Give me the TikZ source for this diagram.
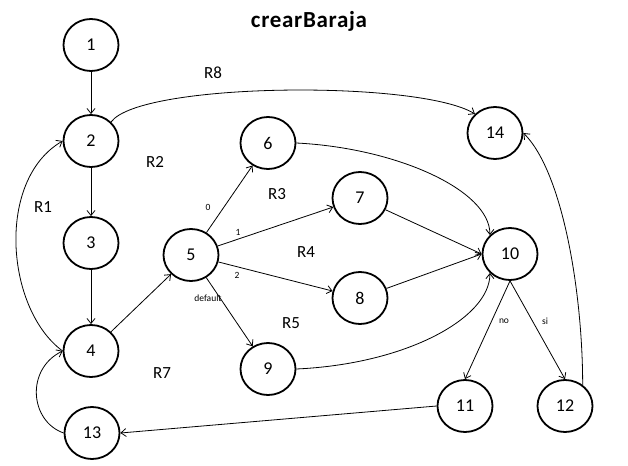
\documentclass[tikz,border=0pt]{standalone}
\usepackage{fontspec}
\setmainfont{Carlito}
\usetikzlibrary{shapes.geometric,arrows.meta}
\tikzset{
  st/.style={ellipse,draw,line width=1.8pt,minimum width=55pt,minimum height=52pt,inner sep=0pt,font=\fontsize{18}{18}\selectfont},
  ed/.style={line width=0.8pt,-{Straight Barb[length=5pt,width=8pt]}},
  reg/.style={font=\fontsize{17}{17}\selectfont},
  sm/.style={font=\fontsize{9.5}{9.5}\selectfont}
}
\begin{document}
\begin{tikzpicture}[x=1pt,y=-1pt]
\useasboundingbox (0,0) rectangle (628,465);
\node[font=\bfseries\fontsize{23}{23}\selectfont\addfontfeature{LetterSpace=3}] (title) at (309,21) {crearBaraja};
\node[st] (n1) at (91,45) {1};
\node[st] (n2) at (91,141) {2};
\node[st] (n3) at (91,243) {3};
\node[st] (n4) at (91,351) {4};
\node[st] (n13) at (92,433) {13};
\node[st] (n5) at (191,255) {5};
\node[st] (n6) at (268,143) {6};
\node[st] (n7) at (360,198) {7};
\node[st] (n8) at (360,298) {8};
\node[st] (n9) at (268,369) {9};
\node[st] (n10) at (510,254) {10};
\node[st] (n11) at (465,406) {11};
\node[st] (n12) at (565,406) {12};
\node[st] (n14) at (495,133) {14};
% region labels
\node[reg] (r8) at (213,73) {R8};
\node[reg] (r2) at (155,162) {R2};
\node[reg] (r1) at (43,207) {R1};
\node[reg] (r3) at (277,194) {R3};
\node[reg] (r4) at (306,252) {R4};
\node[reg] (r5) at (291,323) {R5};
\node[reg] (r7) at (162,373) {R7};
% small labels
\node[sm] (l0) at (208,207) {0};
\node[sm] (l1) at (238,232) {1};
\node[sm] (l2) at (237,275) {2};
\node[sm] (ldef) at (208,298) {default};
\node[sm] (lno) at (504,321) {no};
\node[sm] (lsi) at (545,321) {si};
% edges
\draw[ed] (n1) -- (n2);
\draw[ed] (n2) -- (n3);
\draw[ed] (n3) -- (n4);
\draw[ed] (n4.west) .. controls +(-57,-42) and +(-67,39) .. (n2.west);
\draw[ed] (n13.west) .. controls +(-34,-12) and +(-37,18) .. (n4.west);
\draw[ed] (n4) -- (n5);
\draw[ed] (n5) -- (n6);
\draw[ed] (n5) -- (n7);
\draw[ed] (n5) -- (n8);
\draw[ed] (n5) -- (n9);
\draw[ed] (n6.east) .. controls +(100,5) and +(0,-45) .. (n10.north west);
\draw[ed] (n7) -- (n10.west);
\draw[ed] (n8) -- (n10.west);
\draw[ed] (n9.east) .. controls +(110,-5) and +(0,45) .. (n10.south west);
\draw[ed] (n10.south) -- (n11.north);
\draw[ed] (n10.south) -- (n12.north);
\draw[ed] (n11.west) -- (n13.east);
\draw[ed] (n12.50) .. controls +(0,-90) and +(40,40) .. (n14.east);
\draw[ed] (n2.north east) .. controls +(29,-40) and +(-55,-34) .. (n14.north west);
\end{tikzpicture}
\end{document}
